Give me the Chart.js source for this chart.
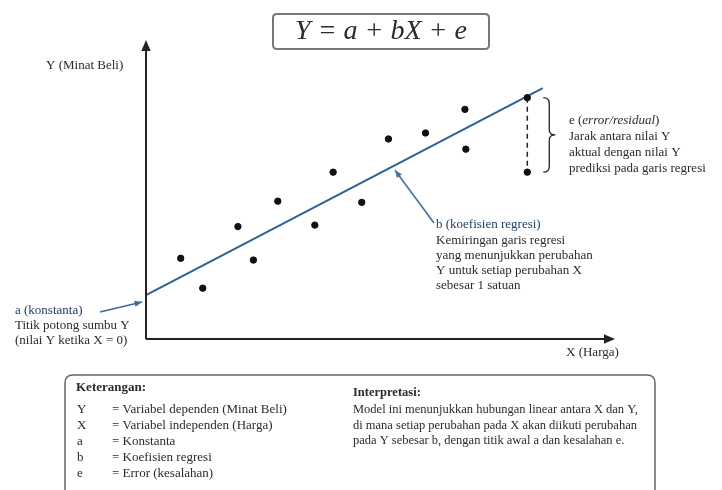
<!DOCTYPE html>
<html>
<head>
<meta charset="utf-8">
<script src="https://cdn.jsdelivr.net/npm/chart.js@4"></script>
<style>
  html, body { margin: 0; padding: 0; background: #fff; }
  #wrap { width: 722px; height: 490px; }
</style>
</head>
<body>
<div id="wrap"><canvas id="chart1" width="722" height="490"></canvas></div>
<script>
"use strict";

// observed points (X = Harga, Y = Minat Beli)
var hargaX = [0.74, 1.21, 1.96, 2.29, 2.81, 3.60, 3.99, 4.60, 5.17, 5.96, 6.80, 6.82, 8.13, 8.13];
var minatY = [2.70, 1.70, 3.76, 2.64, 4.61, 3.81, 5.58, 4.57, 6.69, 6.89, 7.68, 6.35, 8.07, 5.58];

// regression line Y = a + bX
var intercept = 1.47;
var slope = 0.818;
var lineX = [0, 8.46];

// residual shown with dashed line
var residX = 8.13;
var residY = [8.07, 5.58];

var keteranganRows = [
  ["Y", "= Variabel dependen (Minat Beli)"],
  ["X", "= Variabel independen (Harga)"],
  ["a", "= Konstanta"],
  ["b", "= Koefisien regresi"],
  ["e", "= Error (kesalahan)"]
];
var interpretasiLines = [
  "Model ini menunjukkan hubungan linear antara X dan Y,",
  "di mana setiap perubahan pada X akan diikuti perubahan",
  "pada Y sebesar b, dengan titik awal a dan kesalahan e."
];

var SERIF = "'Liberation Serif', 'DejaVu Serif', serif";

function arrowHead(ctx, x1, y1, x2, y2, size, color) {
  var ang = Math.atan2(y2 - y1, x2 - x1);
  ctx.save();
  ctx.fillStyle = color;
  ctx.beginPath();
  ctx.moveTo(x2, y2);
  ctx.lineTo(x2 - size * Math.cos(ang - 0.4), y2 - size * Math.sin(ang - 0.4));
  ctx.lineTo(x2 - size * Math.cos(ang + 0.4), y2 - size * Math.sin(ang + 0.4));
  ctx.closePath();
  ctx.fill();
  ctx.restore();
}

function arrow(ctx, x1, y1, x2, y2, color, width, size) {
  ctx.save();
  ctx.strokeStyle = color;
  ctx.lineWidth = width;
  ctx.beginPath();
  ctx.moveTo(x1, y1);
  ctx.lineTo(x2, y2);
  ctx.stroke();
  ctx.restore();
  arrowHead(ctx, x1, y1, x2, y2, size, color);
}

function roundRect(ctx, x, y, w, h, r) {
  ctx.beginPath();
  ctx.moveTo(x + r, y);
  ctx.lineTo(x + w - r, y);
  ctx.quadraticCurveTo(x + w, y, x + w, y + r);
  ctx.lineTo(x + w, y + h - r);
  ctx.quadraticCurveTo(x + w, y + h, x + w - r, y + h);
  ctx.lineTo(x + r, y + h);
  ctx.quadraticCurveTo(x, y + h, x, y + h - r);
  ctx.lineTo(x, y + r);
  ctx.quadraticCurveTo(x, y, x + r, y);
  ctx.closePath();
}

function lines(ctx, arr, x, y, step) {
  for (var i = 0; i < arr.length; i++) {
    ctx.fillText(arr[i], x, y + i * step);
  }
}

var decor = {
  id: "decor",
  beforeDraw: function(chart) {
    var ctx = chart.ctx;
    ctx.save();
    ctx.fillStyle = "#fff";
    ctx.fillRect(0, 0, chart.width, chart.height);
    ctx.restore();
  },
  afterDraw: function(chart) {
    var ctx = chart.ctx;
    var xs = chart.scales.x, ys = chart.scales.y;
    var ox = xs.getPixelForValue(0), oy = ys.getPixelForValue(0);
    var area = chart.chartArea;

    // axes with arrows
    ctx.save();
    ctx.strokeStyle = "#222";
    ctx.lineWidth = 2;
    ctx.beginPath();
    ctx.moveTo(ox, oy);
    ctx.lineTo(ox, area.top + 6);
    ctx.moveTo(ox, oy);
    ctx.lineTo(area.right - 6, oy);
    ctx.stroke();
    ctx.restore();
    arrowHead(ctx, ox, oy, ox, area.top, 12, "#222");
    arrowHead(ctx, ox, oy, area.right, oy, 12, "#222");

    ctx.save();
    ctx.fillStyle = "#2a2a2a";
    ctx.textBaseline = "middle";
    ctx.font = "13px " + SERIF;
    ctx.fillText("Y (Minat Beli)", 46, 66);
    ctx.fillText("X (Harga)", 566, 353);

    // title box
    ctx.strokeStyle = "#777";
    ctx.lineWidth = 2;
    roundRect(ctx, 273, 14, 216, 35, 4);
    ctx.stroke();
    ctx.font = "italic 28px " + SERIF;
    ctx.textAlign = "center";
    ctx.fillText("Y = a + bX + e", 381, 32);
    ctx.textAlign = "left";

    // a annotation
    var ax = ox, ay = ys.getPixelForValue(intercept);
    arrow(ctx, 100, 312, ax - 4, ay + 7, "#3a6a9c", 1.6, 8);
    ctx.font = "13px " + SERIF;
    ctx.fillStyle = "#1f3f66";
    ctx.fillText("a (konstanta)", 15, 311);
    ctx.fillStyle = "#2a2a2a";
    ctx.fillText("Titik potong sumbu Y", 15, 326);
    ctx.fillText("(nilai Y ketika X = 0)", 15, 341);

    // b annotation
    var bxv = 5.31;
    var bx = xs.getPixelForValue(bxv), by = ys.getPixelForValue(intercept + slope * bxv);
    arrow(ctx, 434, 223, bx, by + 5, "#4a6f98", 1.6, 8);
    ctx.fillStyle = "#1f3f66";
    ctx.fillText("b (koefisien regresi)", 436, 225);
    ctx.fillStyle = "#2a2a2a";
    lines(ctx, ["Kemiringan garis regresi", "yang menunjukkan perubahan",
      "Y untuk setiap perubahan X", "sebesar 1 satuan"], 436, 241, 15);

    // e annotation with brace
    var ex = xs.getPixelForValue(residX) + 16;
    var et = ys.getPixelForValue(residY[0]);
    var eb = ys.getPixelForValue(residY[1]);
    var em = (et + eb) / 2;
    ctx.strokeStyle = "#222";
    ctx.lineWidth = 1.3;
    ctx.beginPath();
    ctx.moveTo(ex, et);
    ctx.quadraticCurveTo(ex + 6, et, ex + 6, et + 6);
    ctx.lineTo(ex + 6, em - 5);
    ctx.quadraticCurveTo(ex + 6, em, ex + 12, em);
    ctx.quadraticCurveTo(ex + 6, em, ex + 6, em + 5);
    ctx.lineTo(ex + 6, eb - 6);
    ctx.quadraticCurveTo(ex + 6, eb, ex, eb);
    ctx.stroke();
    ctx.font = "13px " + SERIF;
    ctx.fillText("e (", 569, 121);
    var w1 = ctx.measureText("e (").width;
    ctx.font = "italic 13px " + SERIF;
    ctx.fillText("error/residual", 569 + w1, 121);
    var w2 = ctx.measureText("error/residual").width;
    ctx.font = "13px " + SERIF;
    ctx.fillText(")", 569 + w1 + w2, 121);
    lines(ctx, ["Jarak antara nilai Y", "aktual dengan nilai Y",
      "prediksi pada garis regresi"], 569, 137, 16);

    // bottom box
    ctx.strokeStyle = "#666";
    ctx.lineWidth = 1.5;
    roundRect(ctx, 65, 375, 590, 140, 8);
    ctx.stroke();
    ctx.font = "bold 13px " + SERIF;
    ctx.fillText("Keterangan:", 76, 388);
    ctx.font = "bold 12.5px " + SERIF;
    ctx.fillText("Interpretasi:", 353, 393);
    ctx.font = "13px " + SERIF;
    for (var i = 0; i < keteranganRows.length; i++) {
      ctx.fillText(keteranganRows[i][0], 77, 410 + i * 16);
      ctx.fillText(keteranganRows[i][1], 112, 410 + i * 16);
    }
    ctx.font = "12.5px " + SERIF;
    lines(ctx, interpretasiLines, 353, 410, 15.5);
    ctx.restore();
  }
};

var scatterData = hargaX.map(function(x, i) { return { x: x, y: minatY[i] }; });
var regData = lineX.map(function(x) { return { x: x, y: intercept + slope * x }; });
var residData = residY.map(function(y) { return { x: residX, y: y }; });

var chart = new Chart(document.getElementById("chart1"), {
  type: "scatter",
  data: {
    datasets: [
      {
        label: "Data",
        data: scatterData,
        backgroundColor: "#111",
        borderColor: "#111",
        pointRadius: 3.2,
        pointHoverRadius: 3.2,
        clip: false
      },
      {
        label: "Regresi",
        type: "line",
        data: regData,
        borderColor: "#2f6394",
        borderWidth: 2,
        pointRadius: 0,
        fill: false,
        clip: false
      },
      {
        label: "Residual",
        type: "line",
        data: residData,
        borderColor: "#222",
        borderWidth: 1.5,
        borderDash: [5, 4],
        pointRadius: 0,
        fill: false,
        clip: false
      }
    ]
  },
  options: {
    responsive: false,
    animation: false,
    events: [],
    layout: {
      padding: { left: 146, right: 107, top: 40, bottom: 151 }
    },
    plugins: {
      legend: { display: false },
      tooltip: { enabled: false }
    },
    scales: {
      x: { type: "linear", min: 0, max: 10, display: false },
      y: { type: "linear", min: 0, max: 10, display: false }
    }
  },
  plugins: [decor]
});
</script>
</body>
</html>
